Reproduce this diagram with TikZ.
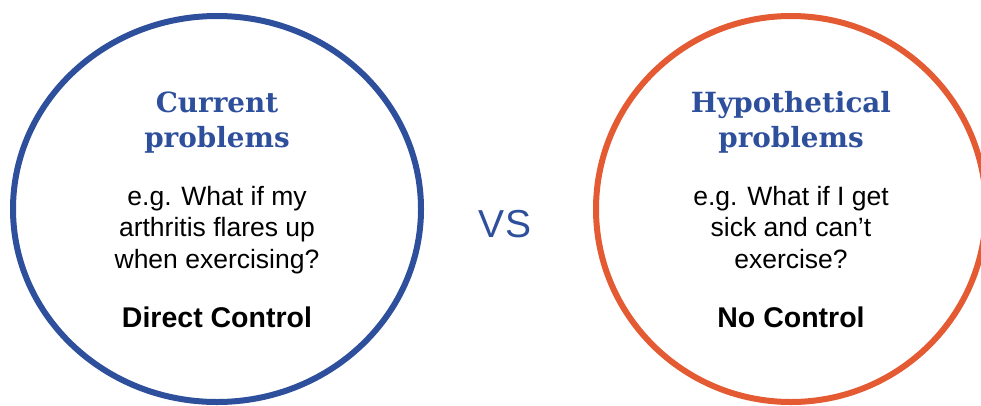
\documentclass[tikz,border=0pt]{standalone}
\usepackage{fontspec}
\setmainfont{Liberation Sans}
\newfontfamily\headfont{DejaVu Serif}
\definecolor{ringblue}{HTML}{2E509C}
\definecolor{ringorange}{HTML}{E45A32}
\begin{document}
\begin{tikzpicture}[x=1pt,y=-1pt,
  ring/.style={line width=6pt},
  heading/.style={text=ringblue, font=\headfont\bfseries\fontsize{27.8}{35}\selectfont, align=center, anchor=base, inner sep=0pt},
  question/.style={text=black, font=\fontsize{26.5}{31.5}\selectfont, align=center, anchor=base, inner sep=0pt},
  verdict/.style={text=black, font=\bfseries\fontsize{28.5}{34}\selectfont, anchor=base, inner sep=0pt},
  versus/.style={text=ringblue, font=\fontsize{39}{45}\selectfont, anchor=base, inner sep=0pt}]
\useasboundingbox (0,0) rectangle (981,405);
\fill[white] (0,0) rectangle (981,405);
\begin{scope}
\clip (0,0) rectangle (981,405);
% the two rings
\draw[ring, draw=ringblue] (217,209) ellipse [x radius=204, y radius=193];
\draw[ring, draw=ringorange] (791,209) ellipse [x radius=195, y radius=193];
\end{scope}
% left ring text (base anchor sits on the last line)
\node[heading] (curhead) at (217,147) {Current\\problems};
\node[question] (curq) at (217,268) {e.g. What if my\\arthritis flares up\\when exercising?};
\node[verdict] (curctl) at (217,327) {Direct Control};
% right ring text
\node[heading] (hyphead) at (791,147) {Hypothetical\\problems};
\node[question] (hypq) at (791,268) {e.g. What if I get\\sick and can’t\\exercise?};
\node[verdict] (hypctl) at (791,327) {No Control};
% centre label
\node[versus] (vs) at (505,237) {VS};
\end{tikzpicture}
\end{document}
